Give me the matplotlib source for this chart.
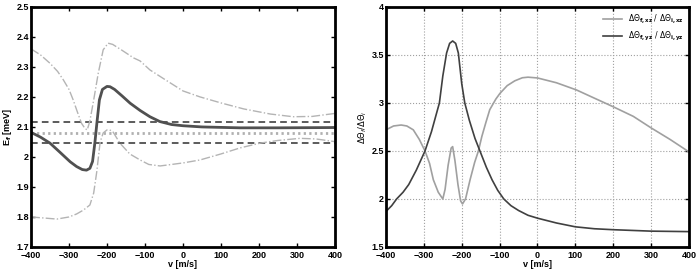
import matplotlib
matplotlib.use("Agg")
import matplotlib.pyplot as plt

plt.rcParams['font.family'] = ['Liberation Sans', 'DejaVu Sans']
plt.rcParams['mathtext.fontset'] = 'dejavusans'

# left panel: final energy vs velocity
v_mean = [-400, -375, -350, -325, -297, -280, -265, -254, -245, -238, -232, -226, -220,
          -212, -200, -192, -180, -160, -139, -113, -87, -61, -30, 0, 50, 150, 250, 400]
e_mean = [2.082, 2.066, 2.046, 2.017, 1.984, 1.968, 1.958, 1.956, 1.962, 1.985, 2.046,
          2.12, 2.19, 2.225, 2.235, 2.234, 2.225, 2.203, 2.179, 2.155, 2.134, 2.118,
          2.108, 2.104, 2.1, 2.097, 2.097, 2.098]

v_up = [-400, -375, -350, -330, -315, -300, -289, -278, -267, -258, -252, -245, -235,
        -223, -210, -197, -185, -160, -130, -113, -87, -50, 0, 45, 100, 160, 230, 290,
        340, 400]
e_up = [2.36, 2.34, 2.312, 2.285, 2.257, 2.225, 2.19, 2.15, 2.112, 2.095, 2.09, 2.12,
        2.19, 2.279, 2.357, 2.379, 2.375, 2.355, 2.33, 2.32, 2.29, 2.26, 2.22, 2.20,
        2.18, 2.16, 2.143, 2.134, 2.135, 2.145]

v_lo = [-400, -370, -332, -300, -280, -262, -245, -235, -227, -218, -210, -200, -193,
        -185, -166, -140, -113, -90, -60, -30, 0, 45, 100, 150, 203, 250, 308, 350, 400]
e_lo = [1.80, 1.797, 1.793, 1.80, 1.81, 1.823, 1.84, 1.88, 1.95, 2.05, 2.08, 2.09, 2.09,
        2.085, 2.046, 2.01, 1.99, 1.975, 1.97, 1.975, 1.98, 1.99, 2.01, 2.03, 2.046,
        2.055, 2.062, 2.06, 2.051]

e_dash = [2.115, 2.045]
e_dot = 2.08

# right panel: angular spread ratio
v_xz = [-400, -380, -360, -345, -328, -312, -297, -285, -275, -262, -250, -244, -236,
        -228, -224, -218, -210, -203, -198, -190, -178, -166, -156, -147, -136, -126,
        -110, -99, -80, -60, -40, -25, 0, 50, 103, 150, 200, 253, 300, 350, 400]
r_xz = [2.72, 2.76, 2.77, 2.76, 2.72, 2.62, 2.5, 2.37, 2.2, 2.07, 2.0, 2.1, 2.35,
        2.53, 2.545, 2.4, 2.15, 1.98, 1.948, 2.0, 2.2, 2.38, 2.5, 2.65, 2.8, 2.93,
        3.04, 3.10, 3.18, 3.23, 3.262, 3.268, 3.26, 3.21, 3.135, 3.05, 2.96, 2.86,
        2.74, 2.62, 2.49]

v_yz = [-400, -385, -372, -355, -340, -320, -297, -280, -259, -250, -240, -232, -224,
        -216, -209, -200, -192, -180, -165, -152, -135, -120, -105, -89, -70, -50, -25,
        0, 50, 100, 150, 200, 300, 400]
r_yz = [1.87, 1.93, 2.0, 2.07, 2.15, 2.3, 2.5, 2.7, 3.0, 3.28, 3.52, 3.62, 3.645, 3.62,
        3.52, 3.2, 3.0, 2.82, 2.63, 2.5, 2.33, 2.2, 2.09, 2.0, 1.93, 1.88, 1.83, 1.80,
        1.75, 1.71, 1.69, 1.68, 1.665, 1.66]

fig = plt.figure(figsize=(6.97, 2.71), dpi=100)
ax1 = fig.add_axes([0.0445, 0.0886, 0.436, 0.886])
ax2 = fig.add_axes([0.5538, 0.0886, 0.4347, 0.886])

for e in e_dash:
    ax1.axhline(e, color='#404040', lw=1.2, ls=(0, (4, 2.5)))
ax1.axhline(e_dot, color='#b0b0b0', lw=2, ls=(0, (0.8, 1.2)))
ax1.plot(v_up, e_up, color='#b4b4b4', lw=1, ls='-.')
ax1.plot(v_lo, e_lo, color='#b4b4b4', lw=1, ls='-.')
ax1.plot(v_mean, e_mean, color='#505050', lw=2)
ax1.set_xlim(-400, 400)
ax1.set_ylim(1.7, 2.5)
ax1.set_yticks([1.7, 1.8, 1.9, 2.0, 2.1, 2.2, 2.3, 2.4, 2.5])
ax1.set_yticklabels(['1.7', '1.8', '1.9', '2', '2.1', '2.2', '2.3', '2.4', '2.5'])
ax1.set_xlabel('v [m/s]', fontsize=6.5, fontweight='bold', labelpad=0)
ax1.set_ylabel(r'E$_\mathbf{f}$ [meV]', fontsize=6.5, fontweight='bold', labelpad=2)

ax2.plot(v_xz, r_xz, color='#a0a0a0', lw=1.2,
         label=r'$\Delta\Theta_{\mathbf{f,xz}}\ /\ \Delta\Theta_{\mathbf{i,xz}}$')
ax2.plot(v_yz, r_yz, color='#404040', lw=1.2,
         label=r'$\Delta\Theta_{\mathbf{f,yz}}\ /\ \Delta\Theta_{\mathbf{i,yz}}$')
ax2.set_xlim(-400, 400)
ax2.set_ylim(1.5, 4)
ax2.set_yticks([1.5, 2, 2.5, 3, 3.5, 4])
ax2.set_yticklabels(['1.5', '2', '2.5', '3', '3.5', '4'])
ax2.grid(True, color='#a0a0a0', ls=':', lw=0.8)
ax2.set_xlabel('v [m/s]', fontsize=6.5, fontweight='bold', labelpad=0)
ax2.set_ylabel(r'$\Delta\Theta_f/\Delta\Theta_i$', fontsize=6, labelpad=2)
ax2.legend(loc='upper right', frameon=False, fontsize=5.5, handlelength=2.5,
           borderaxespad=0.3, labelspacing=0.5)

for ax in (ax1, ax2):
    ax.set_xticks(range(-400, 401, 100))
    for s in ax.spines.values():
        s.set_linewidth(2)
    ax.tick_params(direction='in', top=True, right=True, length=3, width=1,
                   labelsize=6.5, pad=1.5)
    ax.tick_params(axis='x', pad=3)
    for lab in ax.get_xticklabels() + ax.get_yticklabels():
        lab.set_fontweight('bold')

fig.savefig('out.png', dpi=100)
